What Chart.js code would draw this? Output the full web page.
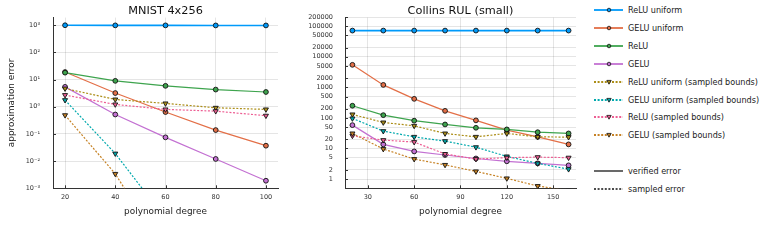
<!DOCTYPE html>
<html>
<head>
<meta charset="utf-8">
<script src="https://cdn.jsdelivr.net/npm/chart.js@4/dist/chart.umd.min.js"></script>
<style>
  body { margin: 0; background: #fff; font-family: "DejaVu Sans", sans-serif; }
  #wrap { position: relative; width: 765px; height: 241px; overflow: hidden; }
  canvas { position: absolute; top: 0; }
  #legend { position: absolute; left: 594px; top: 0; width: 171px; height: 241px; }
  .row { position: absolute; left: 0; height: 12px; display: flex; align-items: center; white-space: nowrap; }
  .row span { font-size: 8.1px; color: #222; margin-left: 4px; }
</style>
</head>
<body>
<div id="wrap">
  <canvas id="mnist" width="290" height="241" style="left:0"></canvas>
  <canvas id="collins" width="300" height="241" style="left:290px"></canvas>
  <div id="legend"></div>
</div>
<script>
// series names and colours (Plots.jl default palette)
const seriesNames = [
  "ReLU uniform", "GELU uniform", "ReLU", "GELU",
  "ReLU uniform (sampled bounds)", "GELU uniform (sampled bounds)",
  "ReLU (sampled bounds)", "GELU (sampled bounds)"
];
const seriesColors = ["#009AFA", "#E36F47", "#3EA44E", "#C371D2", "#AC8E18", "#00A9AD", "#ED5E93", "#C68225"];

// MNIST 4x256
const mnistDegrees = [20, 40, 60, 80, 100];
const mnistReluUniform = [1000, 990, 990, 985, 985];
const mnistGeluUniform = [19, 3.2, 0.64, 0.139, 0.037];
const mnistRelu = [18, 9.0, 5.9, 4.3, 3.5];
const mnistGelu = [5.4, 0.52, 0.075, 0.012, 0.0019];
const mnistReluUniformSampled = [4.7, 1.86, 1.33, 0.92, 0.8];
const mnistGeluUniformSampled = [1.76, 0.019, 0.000076, 0.000003, 0.0000001];
const mnistReluSampled = [2.7, 1.22, 0.8, 0.69, 0.47];
const mnistGeluSampled = [0.49, 0.0034, 0.000004, 0.00000001, 0.0000000001];

// Collins RUL (small)
const collinsDegrees = [20, 40, 60, 80, 100, 120, 140, 160];
const collinsReluUniform = [72000, 72000, 72000, 72000, 72000, 72000, 72000, 72000];
const collinsGeluUniform = [5450, 1200, 420, 170, 83, 40, 24, 13.6];
const collinsRelu = [250, 123, 81, 61, 47.5, 42, 34, 31];
const collinsGelu = [58, 13.6, 8.0, 6.1, 4.7, 3.8, 3.25, 2.8];
const collinsReluUniformSampled = [130, 71, 55, 31, 24, 31, 24, 23.5];
const collinsGeluUniformSampled = [96, 37, 24, 17.4, 11, 5.5, 3.25, 2.1];
const collinsReluSampled = [26, 18.8, 16.2, 6.6, 4.5, 5.0, 5.2, 5.0];
const collinsGeluSampled = [31, 9.6, 4.5, 2.9, 1.78, 1.05, 0.59, 0.42];

// tick values and labels
const mnistXTicks = [20, 40, 60, 80, 100];
const mnistYTicks = [0.001, 0.01, 0.1, 1, 10, 100, 1000];
const mnistYLabels = ["10\u207B\u00B3", "10\u207B\u00B2", "10\u207B\u00B9", "10\u2070", "10\u00B9", "10\u00B2", "10\u00B3"];
const collinsXTicks = [30, 60, 90, 120, 150];
const collinsYTicks = [1, 2, 5, 10, 20, 50, 100, 200, 500, 1000, 2000, 5000, 10000, 20000, 50000, 100000, 200000];
const collinsYLabels = ["1", "2", "5", "10", "20", "50", "100", "200", "500", "1000", "2000", "5000", "10000", "20000", "50000", "100000", "200000"];

const FONT = "DejaVu Sans";

// inward tick marks like GR
const innerTicks = {
  id: "innerTicks",
  afterDraw(chart) {
    const ctx = chart.ctx, a = chart.chartArea;
    ctx.save();
    ctx.strokeStyle = "#333";
    ctx.lineWidth = 1;
    ctx.beginPath();
    chart.scales.x.ticks.forEach((t) => {
      const px = Math.round(chart.scales.x.getPixelForValue(t.value)) + 0.5;
      ctx.moveTo(px, a.bottom);
      ctx.lineTo(px, a.bottom - 3);
    });
    chart.scales.y.ticks.forEach((t) => {
      const py = Math.round(chart.scales.y.getPixelForValue(t.value)) + 0.5;
      ctx.moveTo(a.left, py);
      ctx.lineTo(a.left + 3, py);
    });
    ctx.stroke();
    ctx.restore();
  },
};

function makeDatasets(xs, seriesList) {
  return seriesList.map((ys, i) => {
    const sampled = i >= 4;
    return {
      label: seriesNames[i],
      data: xs.map((x, j) => ({ x: x, y: ys[j] })),
      borderColor: seriesColors[i],
      backgroundColor: seriesColors[i],
      borderWidth: i === 0 ? 1.6 : 1.2,
      borderDash: sampled ? [2, 1.6] : [],
      pointStyle: sampled ? "triangle" : "circle",
      pointRotation: sampled ? 180 : 0,
      pointRadius: sampled ? 2.9 : 2.4,
      pointBorderColor: "#111",
      pointBorderWidth: 0.9,
      pointBackgroundColor: seriesColors[i],
      tension: 0,
      order: -i,
    };
  });
}

function createPlot(id, title, xs, seriesList, xr, xTicks, yr, yTicks, yLabels, yWidth, padRight, yTitle, yPad) {
  const ctx = document.getElementById(id).getContext("2d");
  const config = {
    type: "line",
    data: { datasets: makeDatasets(xs, seriesList) },
    options: {
      responsive: false,
      animation: false,
      devicePixelRatio: 1,
      layout: { padding: { left: 0, right: padRight, top: 0, bottom: 0 } },
      plugins: {
        legend: { display: false },
        tooltip: { enabled: false },
        title: {
          display: true,
          text: title,
          fullSize: false,
          color: "#111",
          font: { family: FONT, size: 11.3, weight: "normal" },
          padding: { top: 4, bottom: 0 },
        },
      },
      scales: {
        x: {
          type: "linear",
          min: xr[0],
          max: xr[1],
          afterBuildTicks: (s) => { s.ticks = xTicks.map((v) => ({ value: v })); },
          afterFit: (s) => { s.height = 52.7; },
          grid: { color: "rgba(0,0,0,0.1)", lineWidth: 1, drawTicks: false },
          border: { display: true, color: "#333", width: 1 },
          ticks: { color: "#333", padding: 5, autoSkip: false, maxRotation: 0, font: { family: FONT, size: 6.5 } },
          title: {
            display: true,
            text: "polynomial degree",
            color: "#222",
            font: { family: FONT, size: 8.9 },
            padding: { top: 0, bottom: 24 },
          },
        },
        y: {
          type: "logarithmic",
          min: yr[0],
          max: yr[1],
          afterBuildTicks: (s) => { s.ticks = yTicks.map((v) => ({ value: v })); },
          afterFit: (s) => { s.width = yWidth; },
          grid: { color: "rgba(0,0,0,0.1)", lineWidth: 1, drawTicks: false },
          border: { display: true, color: "#333", width: 1 },
          ticks: {
            color: "#333",
            padding: yPad,
            autoSkip: false,
            font: { family: FONT, size: 6.5 },
            callback: (v) => {
              const k = yTicks.indexOf(v);
              return k >= 0 ? yLabels[k] : "";
            },
          },
          title: {
            display: yTitle !== "",
            text: yTitle,
            color: "#222",
            font: { family: FONT, size: 8.9 },
            padding: { top: 6.4, bottom: 0 },
          },
        },
      },
    },
    plugins: [innerTicks],
  };
  return new Chart(ctx, config);
}

createPlot("mnist", "MNIST 4x256", mnistDegrees,
  [mnistReluUniform, mnistGeluUniform, mnistRelu, mnistGelu,
   mnistReluUniformSampled, mnistGeluUniformSampled, mnistReluSampled, mnistGeluSampled],
  [15.2, 104.8], mnistXTicks, [0.001, 1920], mnistYTicks, mnistYLabels, 53, 12, "approximation error", 13);

createPlot("collins", "Collins RUL (small)", collinsDegrees,
  [collinsReluUniform, collinsGeluUniform, collinsRelu, collinsGelu,
   collinsReluUniformSampled, collinsGeluUniformSampled, collinsReluSampled, collinsGeluSampled],
  [15.2, 164.8], collinsXTicks, [0.497, 192000], collinsYTicks, collinsYLabels, 55, 14, "", 12);

// legend (outside, right)
const legendRows = seriesNames.map((n, i) => ({ text: n, color: seriesColors[i], dotted: i >= 4, marker: i >= 4 ? "tri" : "dot" }));
legendRows.push(null);
legendRows.push({ text: "verified error", color: "#444", dotted: false, marker: null });
legendRows.push({ text: "sampled error", color: "#111", dotted: true, marker: null });

const legend = document.getElementById("legend");
legendRows.forEach((r, i) => {
  if (!r) return;
  const cy = 10 + i * 17.9;
  const row = document.createElement("div");
  row.className = "row";
  row.style.top = (cy - 6) + "px";
  let svg = '<svg width="30" height="12" viewBox="0 0 30 12">';
  const w = r.marker ? 1.8 : 1.6;
  svg += '<line x1="0" y1="6" x2="29" y2="6" stroke="' + r.color + '" stroke-width="' + w + '"' +
    (r.dotted ? ' stroke-dasharray="2 1.6"' : "") + ' />';
  if (r.marker === "dot") {
    svg += '<circle cx="15" cy="6" r="1.8" fill="' + r.color + '" stroke="#111" stroke-width="0.8" />';
  } else if (r.marker === "tri") {
    svg += '<polygon points="12.8,4.4 17.2,4.4 15,8.2" fill="' + r.color + '" stroke="#111" stroke-width="0.8" />';
  }
  svg += "</svg>";
  row.innerHTML = svg + "<span>" + r.text + "</span>";
  legend.appendChild(row);
});
</script>
</body>
</html>
